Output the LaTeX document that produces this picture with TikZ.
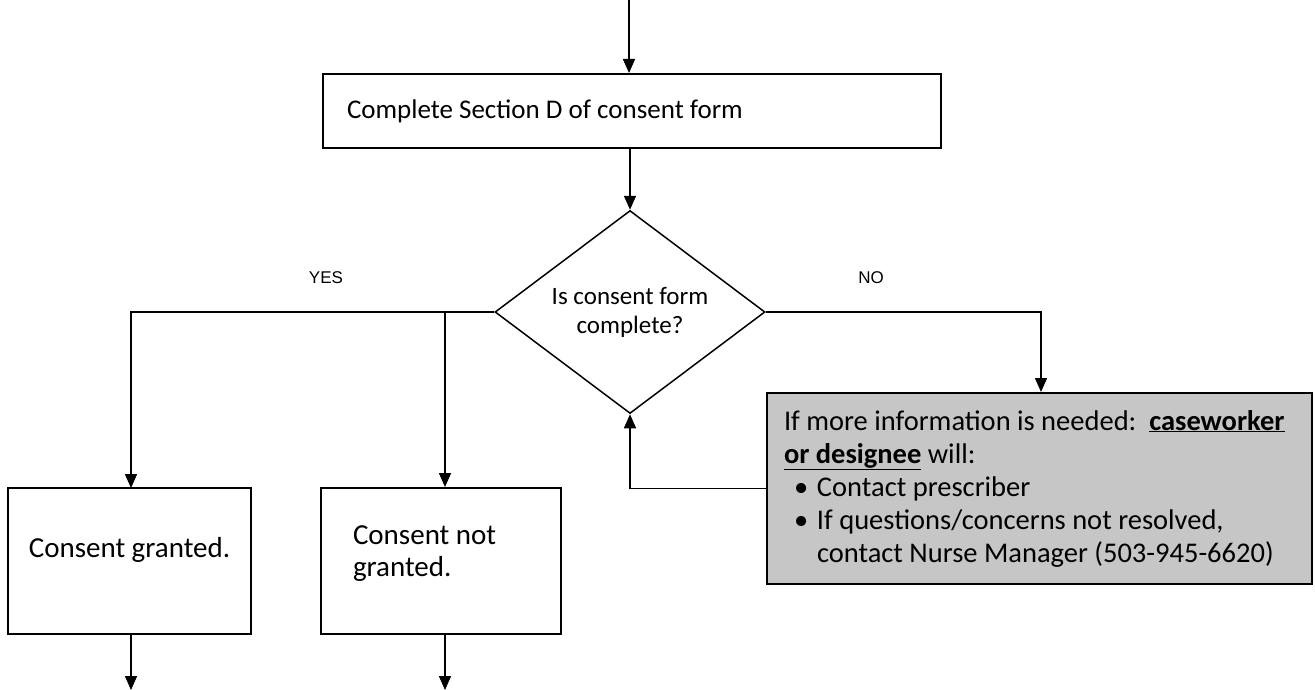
\documentclass[tikz,border=0pt]{standalone}
\usepackage{fontspec}
\setmainfont{Carlito}
\newfontfamily\labelfont{Liberation Sans}
\usetikzlibrary{shapes.geometric,arrows.meta}
\tikzstyle{flow}=[line width=1.5pt,-{Triangle[length=14pt,width=12pt]}]
\tikzstyle{stepbox}=[draw,line width=2pt,inner sep=0pt,font=\fontsize{29}{32}\selectfont]
\tikzstyle{decision}=[draw,line width=1.5pt,diamond,aspect=1.33,inner sep=0pt,
    minimum width=270pt,minimum height=203pt,align=center,font=\fontsize{25}{29}\selectfont]
\tikzstyle{branch}=[font=\labelfont\fontsize{17}{20}\selectfont]

\begin{document}
\begin{tikzpicture}[x=1pt,y=-1pt]
    \useasboundingbox (0,0) rectangle (1315,690);

    \node[stepbox,minimum width=618pt,minimum height=74pt,text width=570pt,align=left,
          font=\fontsize{27}{32}\selectfont]
        (sectiond) at (632,111) {\spaceskip=0pt\relax Complete Section D of consent form};
    \node[decision] (check) at (630,312) {Is consent form\\complete?};

    \node[stepbox,minimum width=243pt,minimum height=146pt,align=center,text depth=28pt]
        (granted) at (129.5,561) {Consent granted.};
    \node[stepbox,minimum width=240pt,minimum height=146pt,text width=176pt,align=left,text depth=52pt]
        (notgranted) at (441,561) {\spaceskip=0pt\relax Consent not\\granted.};

    \node[stepbox,fill=gray!45,anchor=north west,minimum width=545pt,minimum height=191pt,
          inner xsep=17pt,text width=511pt,align=left,font=\fontsize{28.5}{33}\selectfont]
        (moreinfo) at (766,392) {\spaceskip=0pt\relax
        If more information is needed:\ \ \underline{\textbf{caseworker}}\\
        \underline{\textbf{or designee}} will:\\
        \hspace*{10pt}\makebox[23pt][l]{\textbullet}Contact prescriber\\
        \hspace*{10pt}\makebox[23pt][l]{\textbullet}If questions/concerns not resolved,\\
        \hspace*{33pt}contact Nurse Manager (503-945-6620)};

    \node[branch] (yes) at (326,278) {YES};
    \node[branch] (no) at (871,278) {NO};

    \coordinate (start) at (629,0);
    \coordinate (split) at (445,313);

    \draw[flow] (start) -- (start |- sectiond.north);
    \draw[flow] (check.north |- sectiond.south) -- (check.north);
    \draw[flow] (check.west) -| (131,488);
    \draw[flow] (split) -- (split |- notgranted.north);
    \draw[flow] (check.east) -| (1041,392);
    \draw[flow] (moreinfo.west) -| (check.south);
    \draw[flow] (granted.south -| 131,0) -- (131,690);
    \draw[flow] (notgranted.south -| split) -- (445,690);
\end{tikzpicture}
\end{document}
